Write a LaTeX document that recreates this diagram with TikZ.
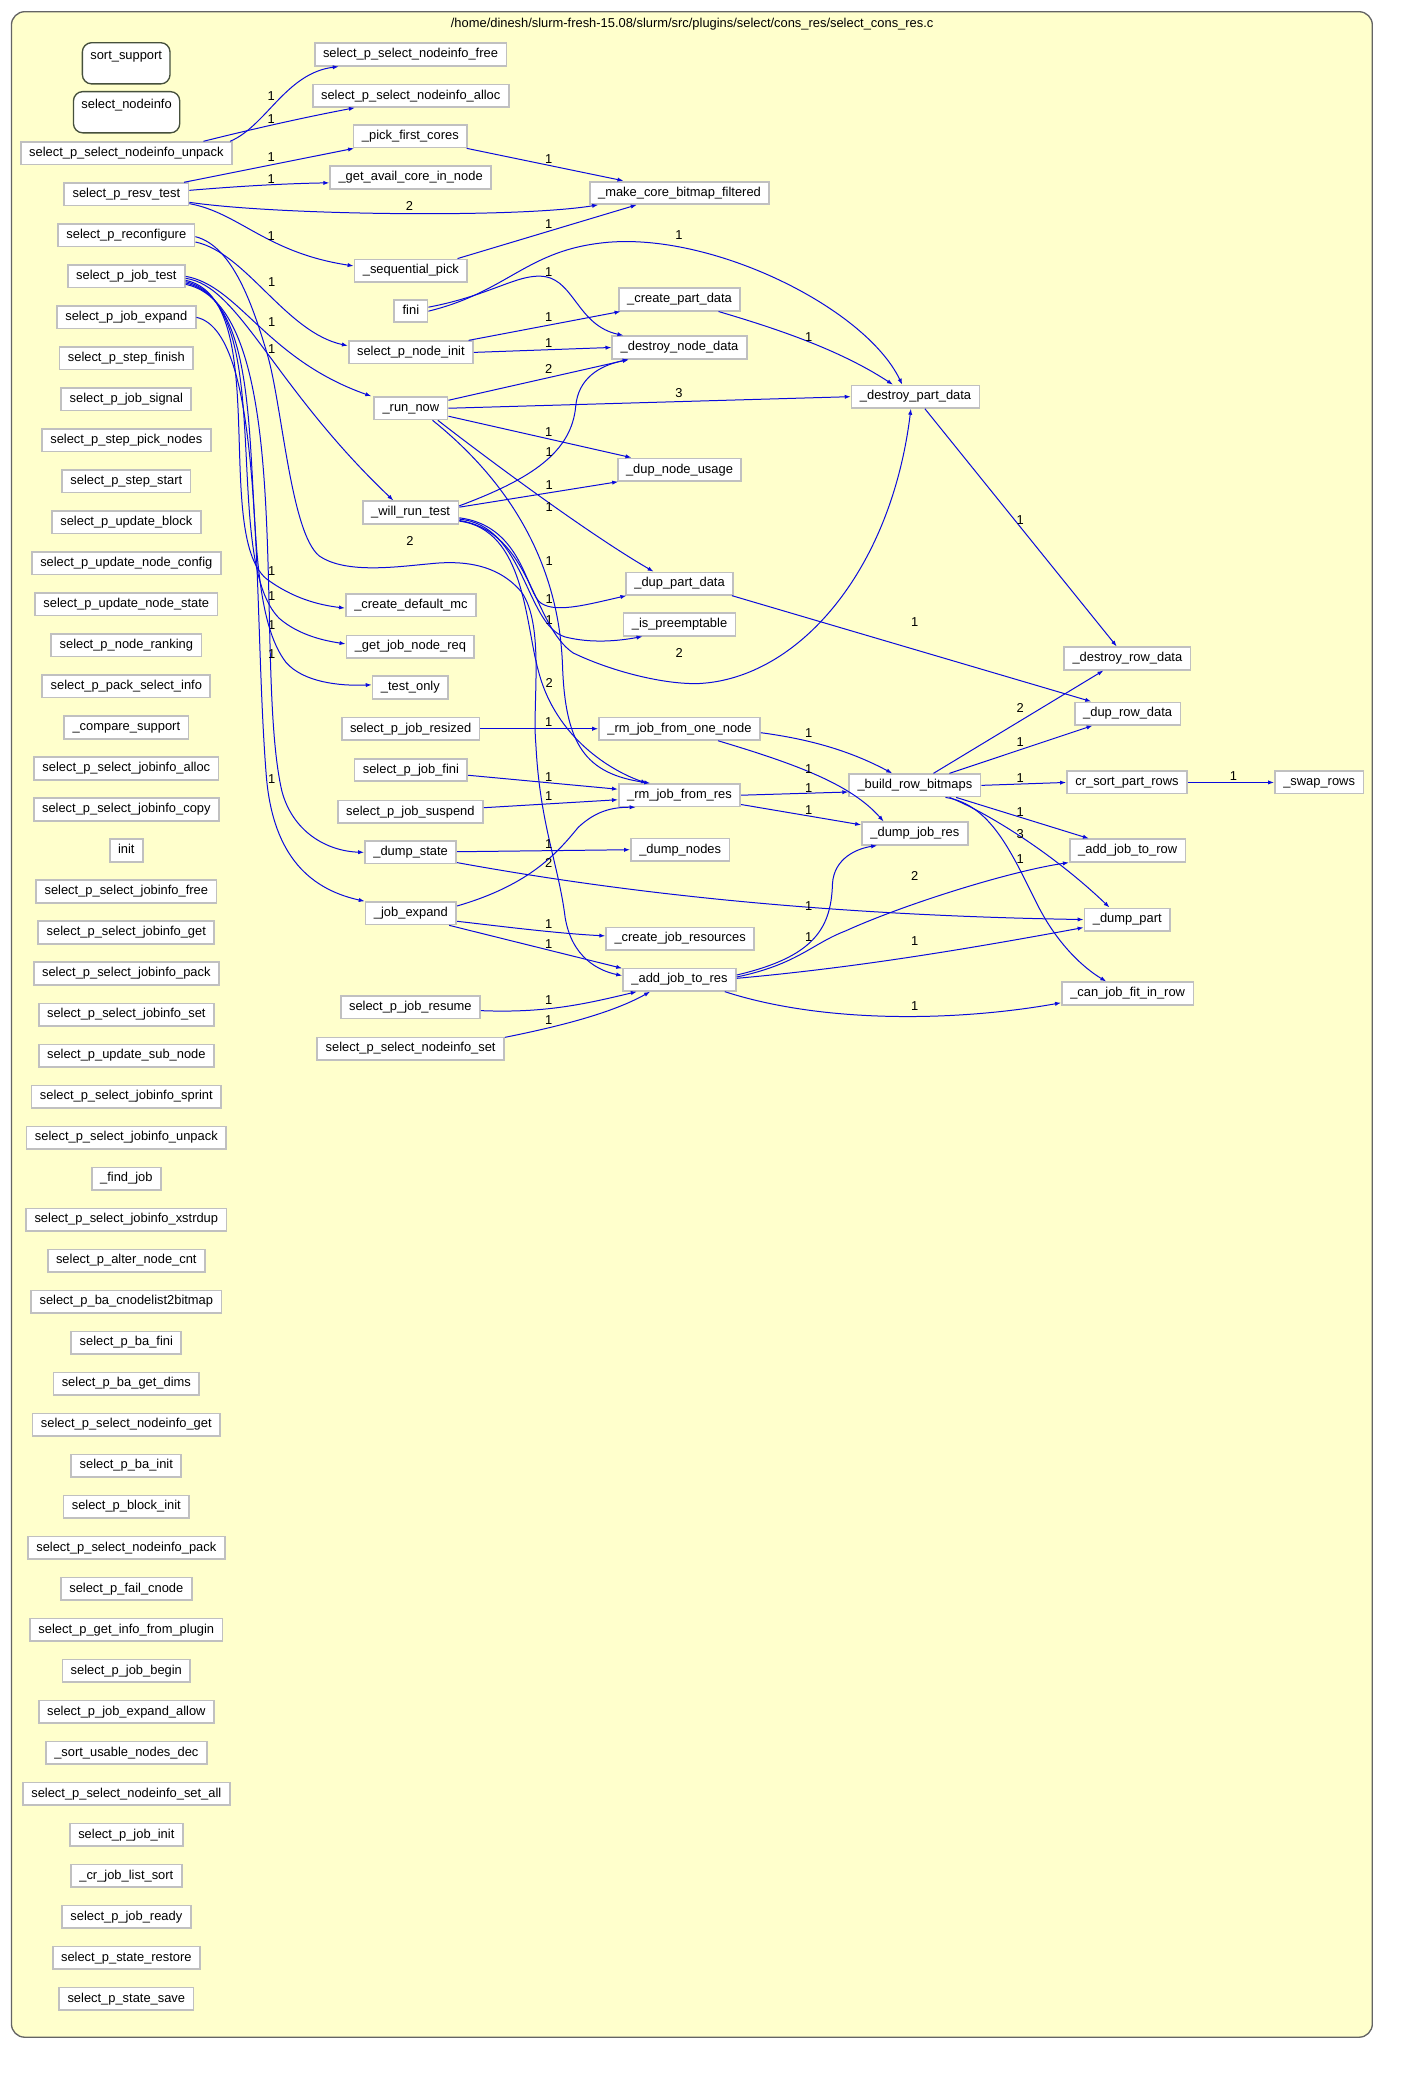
\documentclass[tikz,border=0pt]{standalone}
\usepackage{fontspec}
\setmainfont{Liberation Sans}
\usetikzlibrary{arrows.meta}
\definecolor{gvgray}{RGB}{192,192,192}
\definecolor{gvdark}{RGB}{70,80,60}
\definecolor{gvblue}{RGB}{10,10,220}
\definecolor{gvyellow}{RGB}{255,255,204}
\definecolor{gvframe}{RGB}{100,100,100}
\newcommand\gvfont{\fontsize{9.7}{11}\selectfont}
\tikzset{
  fn/.style={draw=gvgray, line width=1.3pt, fill=white, font=\gvfont, inner xsep=6.3pt, inner ysep=0pt, minimum height=16.8pt, text height=7.3pt, text depth=2.3pt},
  rn/.style={draw=gvdark, line width=1pt, fill=white, rounded corners=7pt, font=\gvfont, inner xsep=6pt, inner ysep=3pt, text height=9.6pt, text depth=15.4pt},
  e/.style={draw=gvblue, line width=0.75pt, -{Latex[length=4.5pt,width=3.2pt]}},
  lbl/.style={font=\gvfont, inner sep=0pt, text=black}
}
\begin{document}
\begin{tikzpicture}[x=1pt,y=-1pt]
\useasboundingbox (0,0) rectangle (1069.3,1568.7);
\draw[gvframe, fill=gvyellow, line width=1pt, rounded corners=10pt] (8.6,8.8) rectangle (1032,1532);
\node[font=\gvfont, inner sep=0pt] (title) at (520.5,18) {/home/dinesh/slurm-fresh-15.08/slurm/src/plugins/select/cons\_res/select\_cons\_res.c};

% rounded boxes
\node[rn] (ss) at (94.9,47.6) {sort\_support};
\node[rn] (sn) at (95.2,84.4) {select\_nodeinfo};

% left column
\foreach \t [count=\i from 0] in {select\_p\_select\_nodeinfo\_unpack, select\_p\_resv\_test, select\_p\_reconfigure, select\_p\_job\_test, select\_p\_job\_expand, select\_p\_step\_finish, select\_p\_job\_signal, select\_p\_step\_pick\_nodes, select\_p\_step\_start, select\_p\_update\_block, select\_p\_update\_node\_config, select\_p\_update\_node\_state, select\_p\_node\_ranking, select\_p\_pack\_select\_info, \_compare\_support, select\_p\_select\_jobinfo\_alloc, select\_p\_select\_jobinfo\_copy, init, select\_p\_select\_jobinfo\_free, select\_p\_select\_jobinfo\_get, select\_p\_select\_jobinfo\_pack, select\_p\_select\_jobinfo\_set, select\_p\_update\_sub\_node, select\_p\_select\_jobinfo\_sprint, select\_p\_select\_jobinfo\_unpack, \_find\_job, select\_p\_select\_jobinfo\_xstrdup, select\_p\_alter\_node\_cnt, select\_p\_ba\_cnodelist2bitmap, select\_p\_ba\_fini, select\_p\_ba\_get\_dims, select\_p\_select\_nodeinfo\_get, select\_p\_ba\_init, select\_p\_block\_init, select\_p\_select\_nodeinfo\_pack, select\_p\_fail\_cnode, select\_p\_get\_info\_from\_plugin, select\_p\_job\_begin, select\_p\_job\_expand\_allow, \_sort\_usable\_nodes\_dec, select\_p\_select\_nodeinfo\_set\_all, select\_p\_job\_init, \_cr\_job\_list\_sort, select\_p\_job\_ready, select\_p\_state\_restore, select\_p\_state\_save}
  \node[fn] (L\i) at (95,{115.3+30.84*\i}) {\t};

% middle column
\node[fn] (nfree) at (308.7,41) {select\_p\_select\_nodeinfo\_free};
\node[fn] (nalloc) at (308.9,72) {select\_p\_select\_nodeinfo\_alloc};
\node[fn] (pick) at (308.6,102.5) {\_pick\_first\_cores};
\node[fn] (avail) at (308.8,133.5) {\_get\_avail\_core\_in\_node};
\node[fn] (seq) at (309,203.5) {\_sequential\_pick};
\node[fn] (fini) at (309,234) {fini};
\node[fn] (ninit) at (309,265) {select\_p\_node\_init};
\node[fn] (runnow) at (309,307) {\_run\_now};
\node[fn] (willrun) at (308.8,385.4) {\_will\_run\_test};
\node[fn] (cdmc) at (309,455.3) {\_create\_default\_mc};
\node[fn] (gjnr) at (308.6,486.2) {\_get\_job\_node\_req};
\node[fn] (testonly) at (308.6,517) {\_test\_only};
\node[fn] (resized) at (308.8,548) {select\_p\_job\_resized};
\node[fn] (jfini) at (309,579) {select\_p\_job\_fini};
\node[fn] (jsusp) at (308.6,610.4) {select\_p\_job\_suspend};
\node[fn] (dstate) at (308.8,641) {\_dump\_state};
\node[fn] (jexp) at (309,686.8) {\_job\_expand};
\node[fn] (jres) at (308.6,757.5) {select\_p\_job\_resume};
\node[fn] (nset) at (308.8,788.6) {select\_p\_select\_nodeinfo\_set};

% third column
\node[fn] (mcbf) at (511,145) {\_make\_core\_bitmap\_filtered};
\node[fn] (cpd) at (511,225.2) {\_create\_part\_data};
\node[fn] (dnd) at (511,261.3) {\_destroy\_node\_data};
\node[fn] (dnu) at (511,353.2) {\_dup\_node\_usage};
\node[fn] (dpd) at (511,438.9) {\_dup\_part\_data};
\node[fn] (ispre) at (511,469.6) {\_is\_preemptable};
\node[fn] (rmone) at (511,548) {\_rm\_job\_from\_one\_node};
\node[fn] (rmres) at (511,598) {\_rm\_job\_from\_res};
\node[fn] (dnodes) at (511.5,639) {\_dump\_nodes};
\node[fn] (cjr) at (511.5,705.8) {\_create\_job\_resources};
\node[fn] (ajr) at (511,736.7) {\_add\_job\_to\_res};

% fourth column
\node[fn] (dpart) at (688.5,298.3) {\_destroy\_part\_data};
\node[fn] (brb) at (688,590.6) {\_build\_row\_bitmaps};
\node[fn] (djr) at (688,626.8) {\_dump\_job\_res};

% fifth column
\node[fn] (drd) at (847.8,495.2) {\_destroy\_row\_data};
\node[fn] (dupr) at (848,536.6) {\_dup\_row\_data};
\node[fn] (csort) at (847.5,588.4) {cr\_sort\_part\_rows};
\node[fn] (ajrow) at (848,639.6) {\_add\_job\_to\_row};
\node[fn] (dumppart) at (847.7,691.5) {\_dump\_part};
\node[fn] (cjf) at (848,747.1) {\_can\_job\_fit\_in\_row};
\node[fn] (swap) at (992,588.4) {\_swap\_rows};

% edges
\draw[e] ([xshift=-2pt]L0.north east) .. controls (200,95) and (215,55) .. ([xshift=-54pt]nfree.south) node[lbl] at (204,72) {1};
\draw[e] ([xshift=-22pt]L0.north east) .. controls (190,97) and (230,88) .. ([xshift=-42pt]nalloc.south) node[lbl] at (204,89.5) {1};
\draw[e] ([xshift=-4pt]L1.north east) -- ([xshift=1pt]pick.south west) node[lbl] at (204,117.8) {1};
\draw[e] ([yshift=3pt]L1.east) .. controls (180,140) and (215,138) .. ([yshift=-4pt]avail.west) node[lbl] at (204,134.9) {1};
\draw[e] ([yshift=-6pt]L1.east) .. controls (210,162) and (390,164) .. ([xshift=7pt]mcbf.south west) node[lbl] at (308,154.7) {2};
\draw[e] ([yshift=-7pt]L1.east) .. controls (180,160) and (200,190) .. ([yshift=3.5pt]seq.west) node[lbl] at (204,177.2) {1};
\draw[e] ([xshift=-1pt]pick.south east) -- ([xshift=26pt]mcbf.north west) node[lbl] at (412.6,119.8) {1};
\draw[e] ([xshift=-8pt]seq.north east) -- ([xshift=36pt]mcbf.south west) node[lbl] at (412.6,168.7) {1};
\draw[e] (fini.east) .. controls (380,220) and (395,190) .. (450,183) .. controls (530,172) and (650,230) .. ([xshift=-10pt]dpart.north) node[lbl] at (510.6,176.7) {1};
\draw[e] ([yshift=3pt]fini.east) .. controls (370,222) and (390,205) .. (410,208) .. controls (432,212) and (435,245) .. ([xshift=9pt]dnd.north west) node[lbl] at (412.6,204.3) {1};
\draw[e] ([xshift=-4pt]ninit.north east) -- ([xshift=2pt]cpd.south west) node[lbl] at (412.6,238.6) {1};
\draw[e] (ninit.east) -- (dnd.west) node[lbl] at (412.6,258.2) {1};
\draw[e] ([xshift=-17pt]cpd.south east) .. controls (580,246) and (630,262) .. ([xshift=-17pt]dpart.north) node[lbl] at (608.2,253.2) {1};
\draw[e] ([yshift=6pt]runnow.east) -- ([xshift=13pt]dnd.south west) node[lbl] at (412.6,277.7) {2};
\draw[e] (runnow.east) -- (dpart.west) node[lbl] at (510.6,295.8) {3};
\draw[e] ([yshift=-5pt]L2.east) .. controls (185,190) and (215,250) .. ([yshift=5pt]ninit.west) node[lbl] at (204.3,212.3) {1};
\draw[e] ([yshift=-1pt]L2.east) .. controls (175,185) and (190,230) .. (200,263) .. controls (212,300) and (218,400) .. (240,418) .. controls (260,432) and (300,426) .. (323,424) .. controls (350,421) and (375,425) .. (392,445) .. controls (410,470) and (400,530) .. (403,560) .. controls (406,620) and (420,650) .. (425,690) .. controls (430,720) and (450,730) .. ([yshift=3pt]ajr.west) node[lbl] at (308.3,406.6) {2};
\draw[e] (L3.east) .. controls (180,215) and (200,270) .. ([xshift=-1.5pt]runnow.north west) node[lbl] at (204.3,241.9) {1};
\draw[e] ([yshift=-1.5pt]L3.east) .. controls (180,215) and (205,290) .. ([xshift=-13pt]willrun.north) node[lbl] at (204.3,262.7) {1};
\draw[e] ([yshift=-3pt]L3.east) .. controls (205,225) and (160,400) .. (200,435) .. controls (220,450) and (240,455) .. ([yshift=-2pt]cdmc.west) node[lbl] at (204.3,429.2) {1};
\draw[e] ([yshift=-4pt]L3.east) .. controls (210,228) and (165,420) .. (210,465) .. controls (225,478) and (245,482) .. ([yshift=2pt]gjnr.west) node[lbl] at (204.3,448) {1};
\draw[e] ([yshift=-5pt]L3.east) .. controls (215,230) and (170,440) .. (215,498) .. controls (228,513) and (255,516) .. ([yshift=2pt]testonly.west) node[lbl] at (204.3,470) {1};
\draw[e] ([yshift=-6pt]L3.east) .. controls (225,232) and (190,500) .. (212,595) .. controls (220,625) and (245,640) .. (dstate.west) node[lbl] at (204.3,492.1) {1};
\draw[e] (L4.east) .. controls (200,250) and (190,450) .. (200,580) .. controls (204,640) and (230,668) .. (jexp.north west) node[lbl] at (204.3,585.9) {1};
\draw[e] ([yshift=-6pt]runnow.east) -- ([xshift=11pt]dnu.north west) node[lbl] at (412.6,324.6) {1};
\draw[e] ([xshift=-8pt]runnow.south east) .. controls (360,340) and (440,400) .. ([xshift=-19.5pt]dpd.north) node[lbl] at (413,381) {1};
\draw[e] ([xshift=-12pt]runnow.south east) .. controls (380,360) and (420,420) .. (423,500) .. controls (425,560) and (440,582) .. ([xshift=-22pt]rmres.north) node[lbl] at (413,421.6) {1};
\draw[e] ([yshift=5pt]willrun.east) .. controls (400,360) and (430,340) .. (433,305) .. controls (435,285) and (450,275) .. ([xshift=13pt]dnd.south west) node[lbl] at (413,339.7) {1};
\draw[e] ([yshift=4pt]willrun.east) -- ([xshift=1pt]dnu.south west) node[lbl] at (413,365) {1};
\draw[e] ([yshift=-4pt]willrun.east) .. controls (390,395) and (395,440) .. (405,452) .. controls (415,462) and (440,455) .. ([xshift=1pt]dpd.south west) node[lbl] at (413,450.2) {1};
\draw[e] ([yshift=-5pt]willrun.east) .. controls (395,395) and (395,470) .. (425,479) .. controls (445,484) and (465,482) .. ([xshift=15pt]ispre.south west) node[lbl] at (413,466) {1};
\draw[e] ([yshift=-6pt]willrun.east) .. controls (400,400) and (400,470) .. (431,491) .. controls (460,505) and (500,515) .. (526,514) .. controls (600,510) and (670,430) .. ([xshift=-3.5pt]dpart.south) node[lbl] at (510.8,491.3) {2};
\draw[e] ([yshift=-6.5pt]willrun.east) .. controls (395,398) and (395,470) .. (405,505) .. controls (418,555) and (460,580) .. ([xshift=-24.5pt]rmres.north) node[lbl] at (413,513.4) {2};
\draw[e] (resized.east) -- (rmone.west) node[lbl] at (412.6,542.7) {1};
\draw[e] ([yshift=-4pt]jfini.east) -- ([yshift=4.5pt]rmres.west) node[lbl] at (412.6,584) {1};
\draw[e] ([yshift=3pt]jsusp.east) -- ([yshift=-3.4pt]rmres.west) node[lbl] at (412.6,599) {1};
\draw[e] ([yshift=0.5pt]dstate.east) -- (dnodes.west) node[lbl] at (412.6,635) {1};
\draw[e] ([yshift=-7.7pt]dstate.east) .. controls (450,668) and (600,688) .. (dumppart.west) node[lbl] at (608.2,681.1) {1};
\draw[e] ([yshift=5.5pt]jexp.east) .. controls (400,665) and (420,640) .. (435,622) .. controls (448,610) and (460,607) .. ([xshift=-33pt]rmres.south) node[lbl] at (412.6,649.2) {2};
\draw[e] ([yshift=-6pt]jexp.east) .. controls (380,697) and (420,702) .. ([yshift=2pt]cjr.west) node[lbl] at (412.6,695) {1};
\draw[e] ([xshift=-6pt]jexp.south east) -- ([yshift=8.5pt]ajr.west) node[lbl] at (412.6,710) {1};
\draw[e] ([yshift=-2.5pt]jres.east) .. controls (410,762) and (440,755) .. ([xshift=11pt]ajr.south west) node[lbl] at (412.6,752.3) {1};
\draw[e] ([yshift=8.5pt]nset.east) .. controls (420,772) and (460,762) .. ([xshift=21pt]ajr.south west) node[lbl] at (412.6,767.3) {1};
\draw[e] ([yshift=-3pt]rmone.east) .. controls (610,556) and (640,565) .. ([xshift=-17pt]brb.north) node[lbl] at (608.2,551.5) {1};
\draw[e] ([xshift=29pt]rmone.south) .. controls (600,575) and (640,590) .. ([xshift=-23.5pt]djr.north) node[lbl] at (608.2,578.4) {1};
\draw[e] (rmres.east) -- ([yshift=-5pt]brb.west) node[lbl] at (608.2,592.3) {1};
\draw[e] ([yshift=-7pt]rmres.east) -- ([yshift=6.5pt]djr.west) node[lbl] at (608.2,609.1) {1};
\draw[e] ([xshift=-1.5pt]dpd.south east) -- ([xshift=13pt]dupr.north west) node[lbl] at (687.8,467.5) {1};
\draw[e] ([xshift=7pt]dpart.south) -- ([xshift=-8pt]drd.north) node[lbl] at (767.2,391) {1};
\draw[e] ([xshift=14pt]brb.north) -- ([xshift=-18pt]drd.south) node[lbl] at (767.2,532.6) {2};
\draw[e] ([xshift=26pt]brb.north) -- ([xshift=14pt]dupr.south west) node[lbl] at (767.2,558.2) {1};
\draw[e] (brb.east) -- (csort.west) node[lbl] at (767.2,585) {1};
\draw[e] (csort.east) -- (swap.west) node[lbl] at (927.6,583.4) {1};
\draw[e] ([xshift=31pt]brb.south) -- ([xshift=15pt]ajrow.north west) node[lbl] at (767.2,610.4) {1};
\draw[e] ([xshift=26pt]brb.south) .. controls (740,610) and (790,640) .. ([xshift=19.5pt]dumppart.north west) node[lbl] at (767.2,627.4) {3};
\draw[e] ([xshift=23pt]brb.south) .. controls (745,605) and (760,640) .. (780,680) .. controls (795,710) and (815,728) .. ([xshift=34pt]cjf.north west) node[lbl] at (767.2,646.2) {1};
\draw[e] ([yshift=3.5pt]ajr.east) .. controls (610,720) and (625,700) .. (626,665) .. controls (627,645) and (645,638) .. ([xshift=12pt]djr.south west) node[lbl] at (608.2,705) {1};
\draw[e] ([yshift=2pt]ajr.east) .. controls (600,725) and (610,710) .. (636,700) .. controls (680,680) and (760,655) .. (ajrow.south west) node[lbl] at (687.8,658.7) {2};
\draw[e] ([yshift=1pt]ajr.east) .. controls (640,728) and (720,715) .. ([yshift=-6pt]dumppart.west) node[lbl] at (687.8,707.4) {1};
\draw[e] ([xshift=-9pt]ajr.south east) .. controls (620,770) and (720,768) .. ([yshift=-7pt]cjf.west) node[lbl] at (687.8,756.9) {1};
\end{tikzpicture}
\end{document}
